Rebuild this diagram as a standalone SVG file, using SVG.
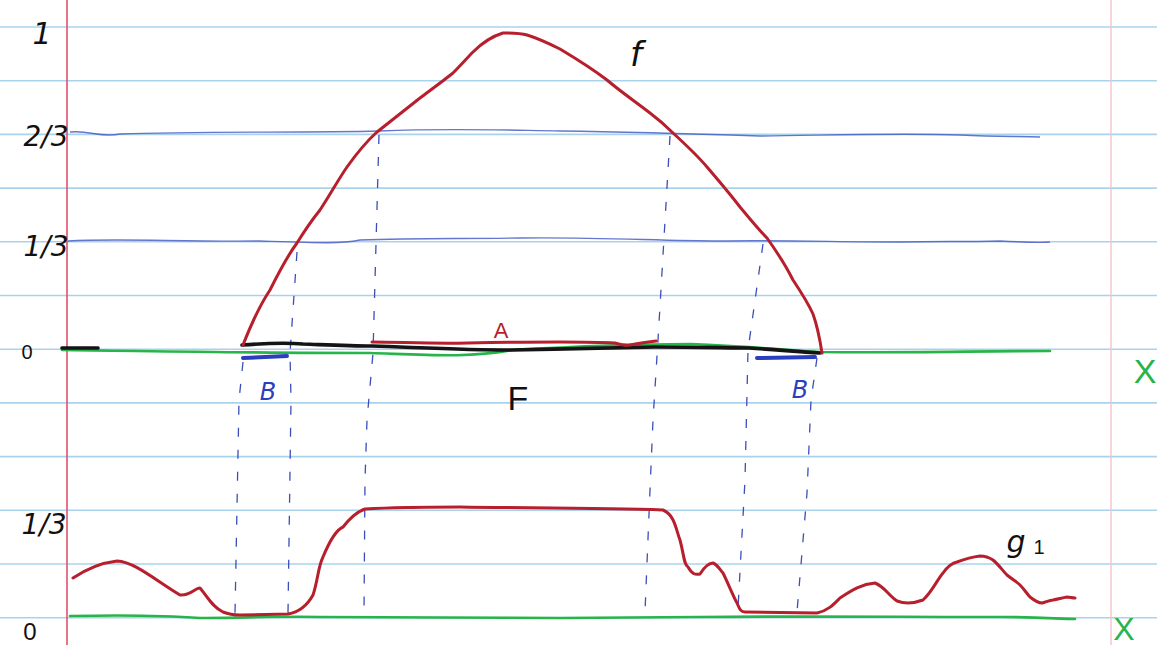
<svg xmlns="http://www.w3.org/2000/svg" width="1157" height="645" viewBox="0 0 1157 645">
<style>
.rule{stroke:#a9d3ec;stroke-width:1.6;fill:none}
.lvl{stroke:#4a5ec4;stroke-width:1.4;fill:none;opacity:0.85}
.red{stroke:#b71f2d;stroke-width:3;fill:none;stroke-linejoin:round;stroke-linecap:round}
.grn{stroke:#27b44a;stroke-width:2.6;fill:none;stroke-linecap:round}
.blk{stroke:#141414;stroke-width:3.6;fill:none;stroke-linecap:round}
.dash{stroke:#3c4fb8;stroke-width:1.3;fill:none;stroke-dasharray:9 13}
.bseg{stroke:#2a3fc0;stroke-width:4;fill:none;stroke-linecap:round}
.hand{font-family:"DejaVu Sans","Liberation Sans",sans-serif;font-style:italic}
</style>
<rect width="1157" height="645" fill="#ffffff"/>
<g id="paper">
<line class="rule" x1="0" y1="27" x2="1157" y2="27"/>
<line class="rule" x1="0" y1="80.7" x2="1157" y2="80.7"/>
<line class="rule" x1="0" y1="134.4" x2="1157" y2="134.4"/>
<line class="rule" x1="0" y1="188.1" x2="1157" y2="188.1"/>
<line class="rule" x1="0" y1="241.8" x2="1157" y2="241.8"/>
<line class="rule" x1="0" y1="295.5" x2="1157" y2="295.5"/>
<line class="rule" x1="0" y1="349.2" x2="1157" y2="349.2"/>
<line class="rule" x1="0" y1="402.9" x2="1157" y2="402.9"/>
<line class="rule" x1="0" y1="456.6" x2="1157" y2="456.6"/>
<line class="rule" x1="0" y1="510.3" x2="1157" y2="510.3"/>
<line class="rule" x1="0" y1="564" x2="1157" y2="564"/>
<line class="rule" x1="0" y1="617.7" x2="1157" y2="617.7"/>
<line x1="67" y1="0" x2="67" y2="645" stroke="#e2506c" stroke-width="1.6"/>
<line x1="1111" y1="0" x2="1111" y2="645" stroke="#f2c4cc" stroke-width="1.4"/>
</g>
<g id="axis-labels" fill="#111">
<text class="hand" x="42" y="44" font-size="30" text-anchor="middle">1</text>
<text class="hand" x="46" y="146" font-size="28" text-anchor="middle">2/3</text>
<text class="hand" x="46" y="256" font-size="28" text-anchor="middle">1/3</text>
<text x="27" y="359" font-size="20" text-anchor="middle" font-family="Liberation Sans,sans-serif">0</text>
<text class="hand" x="44" y="534" font-size="28" text-anchor="middle">1/3</text>
<text x="30" y="640" font-size="24" text-anchor="middle" font-family="Liberation Sans,sans-serif">0</text>
</g>
<g id="levels">
<path class="lvl" d="M70,132 C90,130 100,138 120,134 C200,131 300,133 380,131 C450,128 500,130 560,131 C640,132 700,134 760,136 C840,135 900,133 960,135 C1000,137 1020,136 1040,137"/>
<path class="lvl" d="M68,241 C120,238 180,242 260,241 C320,243 340,244 360,240 C420,238 460,239 520,238 C600,237 660,241 720,241 C780,240 840,242 900,242 C940,241 960,242 1000,241 C1020,242 1040,243 1050,242"/>
</g>
<g id="connectors">
<polyline class="dash" points="243,362 239,400 235,614"/>
<polyline class="dash" points="297,252 290,353 291,400 288,613"/>
<polyline class="dash" points="379,135 373,353 367,420 365,480 364,613"/>
<polyline class="dash" points="670,136 658,340 653,420 650,490 645,612"/>
<polyline class="dash" points="763,244 748,350 745,480 738,608"/>
<polyline class="dash" points="817,358 811,400 807,493 797,612"/>
</g>
<g id="x-axis-top">
<path class="grn" d="M62,350 C150,351 250,353 370,353 C430,355 470,358 512,350 C580,346 640,344 691,344 C760,347 800,351 820,352 C900,353 980,351 1050,351"/>
<path class="blk" d="M62,348 L98,348"/>
<path class="blk" d="M242,345 C270,343 290,343 303,344 C330,345 350,346 372,346 C430,348 470,350 512,350 C560,349 610,348 655,347 C700,347 730,348 749,348 C780,350 800,352 820,353"/>
<text x="1145" y="383" font-size="34" fill="#27b44a" text-anchor="middle" font-family="Liberation Sans,sans-serif">X</text>
</g>
<g id="f-curve">
<path class="red" d="M243,345 C252,322 260,305 270,290 C280,270 288,255 297,243 C305,230 312,220 320,210 C330,195 338,180 347,167 C357,153 367,141 377,132 C392,120 405,110 420,98 C432,89 443,81 453,73 C461,65 467,58 473,52 C483,42 493,36 503,33 C512,33 520,33 527,35 C540,39 550,44 560,49 C575,58 590,67 607,80 C621,92 636,102 650,113 C658,119 666,126 673,133 C685,144 697,155 707,167 C719,181 730,194 740,207 C750,219 758,229 767,238 C777,252 786,266 793,280 C801,292 808,303 813,314 C818,328 820,340 822,353"/>
<text class="hand" x="630" y="66" font-size="34" fill="#111">f</text>
</g>
<g id="set-A">
<path class="red" stroke-width="2.6" d="M372,342 C400,342 430,344 468,343 C520,342 580,341 615,343 C622,345 626,346 630,345 C640,343 648,342 656,341"/>
<text x="501" y="338" font-size="22" fill="#b71f2d" text-anchor="middle" font-family="Liberation Sans,sans-serif">A</text>
</g>
<g id="set-B">
<path class="bseg" d="M243,358 L287,356"/>
<path class="bseg" d="M757,358 L815,357"/>
<text class="hand" x="268" y="400" font-size="24" fill="#2a3fc0" text-anchor="middle" font-style="normal">B</text>
<text class="hand" x="800" y="398" font-size="24" fill="#2a3fc0" text-anchor="middle" font-style="normal">B</text>
</g>
<g id="set-F">
<text x="518" y="410" font-size="34" fill="#111" text-anchor="middle" font-family="Liberation Sans,sans-serif">F</text>
</g>
<g id="x-axis-bottom">
<path class="grn" d="M70,616 C120,615 160,615 200,618 C240,618 280,616 320,617 C400,618 480,617 560,618 C600,618 640,617 700,617 C800,616 900,617 1000,617 C1040,617 1060,619 1075,619"/>
<text x="1124" y="640" font-size="32" fill="#27b44a" text-anchor="middle" font-family="Liberation Sans,sans-serif">X</text>
</g>
<g id="g1-curve">
<path class="red" d="M73,578 C85,570 100,563 117,561 C135,562 155,580 180,595 C190,596 195,588 200,588 C207,596 212,607 223,612 C228,614 231,615 240,615 L288,614 C300,612 308,604 313,595 C318,580 318,567 323,557 C330,540 336,530 343,527 C350,518 356,512 365,509 C400,507 430,507 460,507 C520,508 600,508 663,510 C675,515 676,530 680,540 C684,555 684,565 688,567 C692,574 695,575 700,574 C705,566 710,563 713,563 C718,565 720,570 723,573 C728,583 733,596 737,603 C740,610 741,612 745,612 L817,613 C828,611 835,603 840,598 C852,590 862,584 875,583 C885,587 888,595 897,601 C905,604 915,603 923,600 C932,592 937,580 943,573 C948,566 952,563 957,562 C965,559 972,557 980,556 C987,556 990,558 993,560 C999,565 1003,571 1007,575 C1013,580 1017,582 1020,585 C1025,590 1027,594 1030,597 C1035,601 1038,603 1042,603 C1046,602 1050,600 1053,600 C1058,599 1062,598 1067,597 C1070,597 1072,598 1075,598"/>
<text class="hand" x="1016" y="552" font-size="30" fill="#111" text-anchor="middle">g</text>
<text x="1039" y="554" font-size="20" fill="#111" text-anchor="middle" font-family="Liberation Sans,sans-serif">1</text>
</g>
</svg>
